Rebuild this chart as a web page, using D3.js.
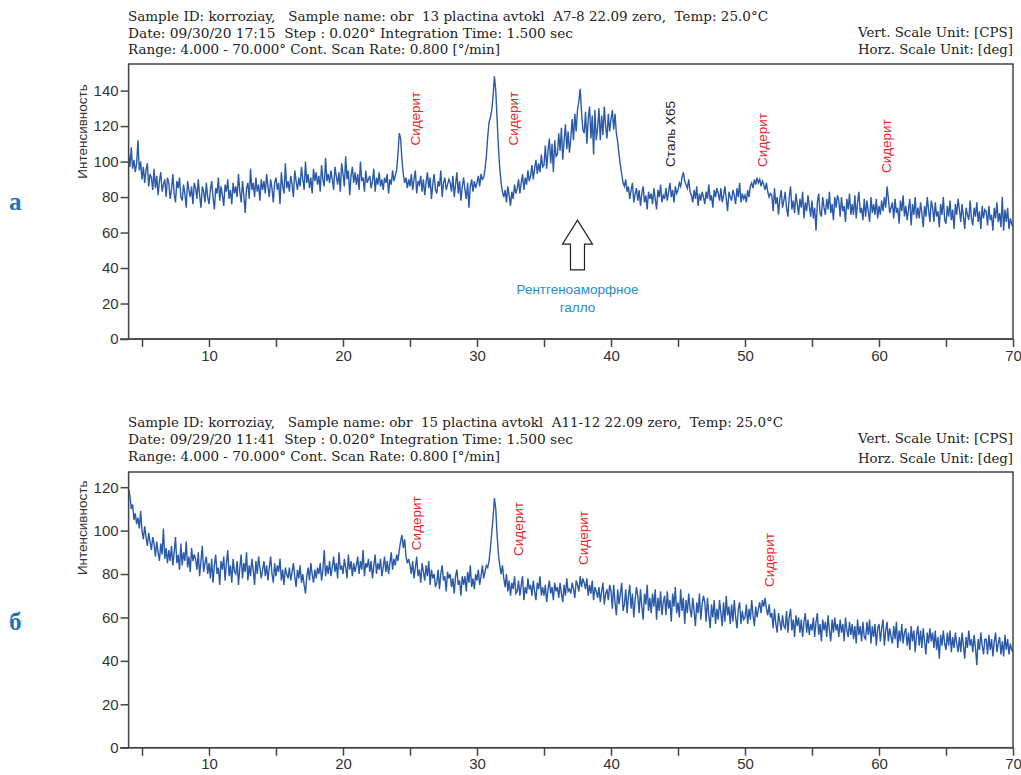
<!DOCTYPE html>
<html>
<head>
<meta charset="utf-8">
<script src="https://cdn.jsdelivr.net/npm/d3@7"></script>
<style>
  body { margin: 0; background: #fff; }
  svg { display: block; }
</style>
</head>
<body>
<div id="chart"></div>
<script>
// scan: 2theta from 4 to 70 deg, values read every 0.1 deg
const twoThetaStart = 4;
const twoThetaStep = 0.1;

// panel "а" intensities (CPS)
const intensityA = [
  104, 97, 108, 96, 101, 94, 99, 112, 95, 100,
  90, 97, 88, 95, 99, 86, 93, 91, 84, 96,
  85, 92, 81, 89, 94, 83, 87, 90, 80, 91,
  88, 79, 84, 93, 82, 77, 89, 85, 91, 80,
  78, 87, 82, 74, 89, 84, 80, 86, 76, 88,
  85, 79, 90, 81, 74, 86, 83, 77, 88, 80,
  76, 84, 89, 80, 73, 85, 82, 91, 78, 86,
  81, 75, 87, 83, 90, 79, 84, 76, 88, 82,
  86, 80, 93, 83, 77, 89, 81, 71, 85, 88,
  79, 96, 84, 88, 80, 91, 83, 87, 78, 90,
  84, 89, 82, 93, 86, 80, 90, 85, 77, 88,
  91, 84, 88, 76, 94, 86, 82, 99, 85, 89,
  83, 92, 87, 80, 95, 89, 84, 91, 86, 97,
  90, 84, 100, 88, 93, 85, 91, 82, 96, 89,
  94, 87, 92, 83, 98, 90, 86, 102, 89, 93,
  88, 95, 90, 84, 97, 92, 87, 94, 83, 99,
  93, 86, 103, 90, 95, 81, 92, 97, 88, 94,
  87, 93, 84, 100, 89, 91, 83, 95, 88, 90,
  92, 85, 89, 96, 83, 91, 87, 94, 86, 90,
  84, 91, 88, 93, 82, 90, 87, 95, 89, 92,
  95, 104, 116, 113, 101, 93, 88, 91, 85, 90,
  86, 93, 84, 90, 95, 82, 89, 87, 92, 83,
  90, 81, 88, 94, 85, 91, 79, 87, 93, 84,
  82, 89, 86, 95, 80, 88, 91, 84, 87, 90,
  88, 83, 92, 80, 87, 94, 82, 89, 78, 86,
  91, 84, 79, 88, 74, 86, 90, 83, 89, 85,
  88, 92, 86, 93, 90, 91, 96, 103, 114, 122,
  125, 129, 137, 148, 140, 124, 108, 96, 88, 83,
  80, 84, 77, 86, 81, 75, 83, 79, 87, 82,
  85, 90, 82, 88, 93, 84, 91, 87, 95, 89,
  92, 98, 90, 96, 101, 93, 99, 94, 104, 97,
  98, 109, 96, 106, 113, 99, 110, 94, 112, 103,
  104, 116, 106, 119, 101, 112, 121, 107, 117, 105,
  113, 124, 112, 127, 117, 129, 134, 141, 128, 118,
  116, 128, 110, 124, 131, 113, 126, 104, 129, 112,
  119, 130, 112, 126, 115, 131, 120, 113, 127, 117,
  124, 129, 118, 127, 116, 111, 104, 98, 93, 88,
  86, 90, 83, 86, 79, 84, 88, 77, 82, 85,
  78, 84, 75, 82, 86, 77, 81, 73, 83, 79,
  82, 76, 85, 79, 73, 84, 80, 87, 77, 81,
  79, 85, 78, 83, 88, 80, 84, 77, 86, 82,
  84, 88, 86, 91, 94, 89, 87, 85, 90, 83,
  81, 77, 84, 79, 86, 75, 82, 78, 83, 80,
  76, 83, 79, 87, 78, 81, 74, 84, 80, 85,
  82, 78, 85, 77, 81, 86, 79, 72, 83, 80,
  78, 84, 81, 76, 85, 80, 88, 77, 82, 79,
  81, 77, 84, 80, 86, 88, 85, 90, 87, 91,
  88, 90, 86, 89, 87, 84, 88, 83, 80, 82,
  81, 72, 85, 76, 80, 70, 79, 84, 74, 78,
  83, 74, 69, 80, 86, 73, 78, 71, 82, 76,
  70, 79, 74, 83, 68, 77, 72, 81, 75, 69,
  78, 68, 74, 61, 77, 82, 71, 69, 80, 74,
  70, 79, 73, 83, 71, 76, 67, 80, 74, 81,
  78, 69, 80, 72, 75, 66, 79, 73, 82, 70,
  76, 70, 81, 68, 77, 83, 71, 74, 67, 79,
  69, 78, 72, 66, 80, 71, 76, 70, 79, 68,
  75, 70, 78, 72, 80, 74, 86, 79, 71, 74,
  77, 68, 79, 71, 74, 65, 78, 72, 81, 69,
  75, 67, 73, 79, 64, 76, 70, 80, 68, 74,
  68, 77, 71, 63, 75, 69, 80, 73, 66, 78,
  74, 66, 77, 69, 72, 63, 76, 70, 80, 67,
  65, 75, 69, 78, 67, 73, 62, 76, 70, 79,
  73, 66, 76, 69, 62, 74, 70, 67, 78, 68,
  64, 74, 69, 77, 66, 72, 62, 75, 68, 73,
  72, 64, 75, 67, 70, 61, 74, 68, 77, 66,
  71, 63, 80, 61, 73, 66, 74, 62, 68, 65,
  63
];

// panel "б" intensities (CPS)
const intensityB = [
  119, 116, 110, 112, 105, 108, 103, 106, 101, 109,
  100, 96, 102, 97, 93, 99, 95, 91, 97, 94,
  88, 95, 90, 86, 94, 89, 101, 87, 92, 85,
  91, 86, 93, 84, 90, 97, 85, 89, 82, 94,
  84, 90, 86, 95, 83, 88, 81, 92, 86, 89,
  87, 82, 90, 79, 86, 93, 81, 85, 88, 80,
  85, 78, 87, 76, 84, 89, 80, 83, 75, 86,
  82, 88, 77, 85, 91, 79, 84, 76, 87, 81,
  80, 86, 75, 83, 89, 78, 85, 81, 90, 77,
  84, 79, 87, 82, 75, 86, 80, 88, 83, 78,
  82, 86, 79, 84, 77, 83, 88, 80, 76, 85,
  79, 84, 81, 87, 77, 82, 75, 83, 80, 78,
  83, 77, 81, 85, 79, 74, 82, 78, 84, 76,
  80, 75, 71, 79, 83, 77, 85, 80, 76, 82,
  78, 83, 80, 85, 77, 82, 91, 79, 84, 80,
  86, 79, 83, 88, 81, 85, 78, 90, 82, 84,
  80, 87, 83, 78, 89, 82, 86, 79, 85, 81,
  84, 88, 80, 86, 82, 91, 79, 85, 83, 87,
  81, 86, 78, 84, 89, 80, 85, 82, 87, 79,
  83, 88, 81, 86, 80, 85, 90, 82, 87, 84,
  89, 86, 91, 95, 98, 92, 96, 88, 85, 87,
  84, 80, 86, 78, 83, 88, 79, 82, 76, 85,
  81, 77, 84, 79, 86, 75, 82, 78, 80, 74,
  76, 82, 73, 80, 84, 77, 79, 72, 81, 78,
  80, 74, 78, 71, 79, 82, 75, 77, 70, 79,
  75, 79, 72, 81, 76, 84, 74, 78, 73, 80,
  77, 82, 75, 79, 84, 78, 81, 84, 83, 86,
  92, 99, 106, 115, 110, 98, 89, 84, 80, 84,
  78, 74, 80, 72, 77, 70, 76, 73, 79, 71,
  72, 77, 70, 75, 79, 68, 74, 71, 78, 73,
  75, 70, 77, 72, 68, 76, 73, 79, 70, 74,
  70, 75, 67, 73, 77, 71, 74, 68, 76, 72,
  74, 69, 76, 71, 67, 75, 70, 78, 72, 73,
  71, 76, 73, 69, 77, 75, 72, 79, 74, 78,
  76, 73, 78, 70, 75, 71, 77, 68, 74, 72,
  69, 74, 67, 72, 76, 66, 71, 73, 68, 75,
  72, 64, 75, 67, 61, 73, 66, 71, 76, 63,
  66, 73, 62, 70, 75, 64, 71, 60, 68, 74,
  70, 62, 73, 65, 59, 71, 66, 75, 63, 69,
  62, 71, 65, 73, 59, 69, 63, 72, 61, 67,
  70, 61, 72, 64, 68, 58, 71, 65, 74, 62,
  67, 60, 73, 63, 69, 57, 68, 62, 71, 64,
  60, 69, 63, 56, 67, 62, 71, 59, 66, 70,
  67, 58, 69, 61, 55, 66, 60, 68, 57, 64,
  59, 68, 62, 56, 67, 58, 70, 61, 65, 57,
  66, 58, 68, 60, 55, 64, 67, 57, 63, 59,
  60, 66, 57, 64, 59, 68, 61, 56, 65, 60,
  64, 67, 62, 68, 65, 69, 64, 61, 66, 60,
  62, 55, 64, 57, 53, 62, 58, 54, 61, 56,
  55, 63, 53, 60, 64, 54, 59, 51, 61, 56,
  60, 53, 59, 51, 58, 62, 53, 59, 52, 57,
  54, 60, 51, 58, 62, 52, 57, 49, 59, 54,
  58, 51, 61, 54, 49, 59, 53, 60, 54, 57,
  51, 59, 53, 57, 49, 60, 54, 51, 58, 52,
  57, 50, 56, 48, 59, 52, 56, 49, 58, 51,
  50, 58, 52, 59, 48, 56, 51, 57, 47, 55,
  57, 49, 55, 59, 47, 54, 58, 49, 55, 51,
  48, 56, 50, 58, 46, 54, 49, 57, 48, 53,
  55, 47, 53, 45, 56, 49, 54, 44, 52, 56,
  47, 54, 46, 55, 49, 43, 53, 48, 55, 49,
  53, 46, 54, 45, 51, 41, 52, 47, 54, 48,
  45, 53, 47, 54, 44, 51, 46, 53, 48, 44,
  51, 44, 53, 47, 41, 51, 46, 54, 47, 50,
  44, 52, 46, 38, 50, 45, 53, 47, 43, 50,
  50, 43, 52, 45, 50, 42, 49, 53, 44, 48,
  51, 43, 49, 42, 52, 45, 50, 43, 48, 45,
  44
];

const xTicks = [5, 10, 15, 20, 25, 30, 35, 40, 45, 50, 55, 60, 65, 70];
const yTicksA = [0, 20, 40, 60, 80, 100, 120, 140];
const yTicksB = [0, 20, 40, 60, 80, 100, 120];

const headerA = [
  "Sample ID: korroziay,   Sample name: obr  13 plactina avtokl  A7-8 22.09 zero,  Temp: 25.0°C",
  "Date: 09/30/20 17:15  Step : 0.020° Integration Time: 1.500 sec",
  "Range: 4.000 - 70.000° Cont. Scan Rate: 0.800 [°/min]"
];
const headerB = [
  "Sample ID: korroziay,   Sample name: obr  15 plactina avtokl  A11-12 22.09 zero,  Temp: 25.0°C",
  "Date: 09/29/20 11:41  Step : 0.020° Integration Time: 1.500 sec",
  "Range: 4.000 - 70.000° Cont. Scan Rate: 0.800 [°/min]"
];
const unitLines = ["Vert. Scale Unit: [CPS]", "Horz. Scale Unit: [deg]"];

// peak labels: text, 2theta, intensity where the label starts
const peakNamesA = ["Сидерит", "Сидерит", "Сталь Х65", "Сидерит", "Сидерит"];
const peakThetaA = [25.4, 32.7, 44.45, 51.3, 60.55];
const peakLevelA = [109, 109, 97, 97, 93.5];

const peakNamesB = ["Сидерит", "Сидерит", "Сидерит", "Сидерит"];
const peakThetaB = [25.5, 33.05, 37.9, 51.8];
const peakLevelB = [91, 88.3, 84.2, 74];

// amorphous halo arrow (panel а)
const haloTheta = 37.5;
const haloTop = 67;
const haloBottom = 39;
const haloCaption = ["Рентгеноаморфное", "галло"];

const w = 1021, h = 775;
const sans = "'Liberation Sans', Arial, sans-serif";
const serif = "'DejaVu Serif', serif";
const lineColor = "#2a5aa8";
const axisColor = "#444";

const svg = d3.select("#chart").append("svg")
  .attr("width", w)
  .attr("height", h)
  .style("background", "white");

const xScale = d3.scaleLinear().domain([4, 70]).range([128.6, 1013]);

function drawPanel(cfg) {
  const yScale = d3.scaleLinear().domain([0, cfg.yMax]).range([cfg.bottom, cfg.top]);
  const g = svg.append("g");

  // header text, stretched to the printed width
  cfg.header.forEach((t, i) => {
    g.append("text")
      .attr("x", 128)
      .attr("y", cfg.headerY[i])
      .attr("font-family", serif)
      .attr("font-size", 12)
      .attr("fill", "#222")
      .attr("textLength", cfg.headerW[i])
      .attr("lengthAdjust", "spacingAndGlyphs")
      .style("white-space", "pre")
      .text(t);
  });
  unitLines.forEach((t, i) => {
    g.append("text")
      .attr("x", 1013 - 155)
      .attr("y", cfg.unitY[i])
      .attr("font-family", serif)
      .attr("font-size", 12)
      .attr("fill", "#222")
      .attr("textLength", 155)
      .attr("lengthAdjust", "spacingAndGlyphs")
      .text(t);
  });

  // data line
  const clipId = "clip" + cfg.id;
  g.append("clipPath").attr("id", clipId)
    .append("rect")
    .attr("x", xScale(4)).attr("y", cfg.top)
    .attr("width", xScale(70) - xScale(4)).attr("height", cfg.bottom - cfg.top);

  const line = d3.line()
    .x((d, i) => xScale(twoThetaStart + i * twoThetaStep))
    .y(d => yScale(d));

  g.append("path")
    .datum(cfg.values)
    .attr("clip-path", "url(#" + clipId + ")")
    .attr("fill", "none")
    .attr("stroke", lineColor)
    .attr("stroke-width", 1.4)
    .attr("d", line);

  // frame
  g.append("rect")
    .attr("x", xScale(4)).attr("y", cfg.top)
    .attr("width", xScale(70) - xScale(4)).attr("height", cfg.bottom - cfg.top)
    .attr("fill", "none")
    .attr("stroke", axisColor)
    .attr("stroke-width", 1.5);
  g.append("line")
    .attr("x1", 120).attr("x2", xScale(70))
    .attr("y1", cfg.bottom).attr("y2", cfg.bottom)
    .attr("stroke", axisColor).attr("stroke-width", 1.5);

  // axes
  const xAxis = d3.axisBottom(xScale)
    .tickValues(xTicks)
    .tickSize(8)
    .tickSizeOuter(0)
    .tickFormat(d => d % 10 === 0 ? d : "");
  const gx = g.append("g")
    .attr("transform", "translate(0," + cfg.bottom + ")")
    .call(xAxis);
  gx.select(".domain").remove();
  gx.selectAll("line").attr("stroke", axisColor).attr("stroke-width", 1.5);
  gx.selectAll("text").attr("font-family", sans).attr("font-size", 15).attr("fill", "#333");

  const yAxis = d3.axisLeft(yScale)
    .tickValues(cfg.yTicks)
    .tickSize(8)
    .tickPadding(2);
  const gy = g.append("g")
    .attr("transform", "translate(" + xScale(4) + ",0)")
    .call(yAxis);
  gy.select(".domain").remove();
  gy.selectAll("line").attr("stroke", axisColor).attr("stroke-width", 1.5);
  gy.selectAll("text").attr("font-family", sans).attr("font-size", 15).attr("fill", "#333");

  // y label
  g.append("text")
    .attr("transform", "translate(82," + ((cfg.top + cfg.bottom) / 2 - cfg.labelShift) + ") rotate(-90)")
    .attr("text-anchor", "middle")
    .attr("dy", "0.35em")
    .attr("font-family", sans)
    .attr("font-size", 13.5)
    .attr("fill", "#333")
    .text("Интенсивность");

  // peak labels
  cfg.peakNames.forEach((name, i) => {
    const px = xScale(cfg.peakTheta[i]);
    const py = yScale(cfg.peakLevel[i]);
    g.append("text")
      .attr("transform", "translate(" + px + "," + py + ") rotate(-90)")
      .attr("dy", "0.35em")
      .attr("font-family", sans)
      .attr("font-size", 13.5)
      .attr("fill", name === "Сидерит" ? "#e8262a" : "#222")
      .text(name);
  });

  // panel letter
  g.append("text")
    .attr("x", 9)
    .attr("y", cfg.letterY)
    .attr("font-family", "'Liberation Serif', serif")
    .attr("font-weight", "bold")
    .attr("font-size", 25)
    .attr("fill", "#1b75bc")
    .text(cfg.letter);

  return yScale;
}

const yA = drawPanel({
  id: "A", values: intensityA, yMax: 155, top: 64, bottom: 339,
  yTicks: yTicksA, header: headerA, headerY: [21, 38, 54], headerW: [640, 445, 372],
  unitY: [37, 54],
  peakNames: peakNamesA, peakTheta: peakThetaA, peakLevel: peakLevelA,
  letter: "а", letterY: 210, labelShift: 70
});

drawPanel({
  id: "B", values: intensityB, yMax: 127, top: 472, bottom: 747.7,
  yTicks: yTicksB, header: headerB, headerY: [427, 444, 461], headerW: [655, 445, 372],
  unitY: [443, 463],
  peakNames: peakNamesB, peakTheta: peakThetaB, peakLevel: peakLevelB,
  letter: "б", letterY: 630, labelShift: 82
});

// hollow arrow pointing at the amorphous halo
const ax = xScale(haloTheta);
const aTop = yA(haloTop);
const aBottom = yA(haloBottom);
const headBase = aTop + 24;
const arrowPts = [
  [ax, aTop], [ax + 15, headBase], [ax + 7, headBase], [ax + 7, aBottom],
  [ax - 7, aBottom], [ax - 7, headBase], [ax - 15, headBase]
];
svg.append("polygon")
  .attr("points", arrowPts.map(p => p.join(",")).join(" "))
  .attr("fill", "white")
  .attr("stroke", "#222")
  .attr("stroke-width", 1.2);

haloCaption.forEach((t, i) => {
  svg.append("text")
    .attr("x", ax)
    .attr("y", aBottom + 24 + i * 18)
    .attr("text-anchor", "middle")
    .attr("font-family", sans)
    .attr("font-size", 13.5)
    .attr("fill", "#2a8bd0")
    .text(t);
});
</script>
</body>
</html>
